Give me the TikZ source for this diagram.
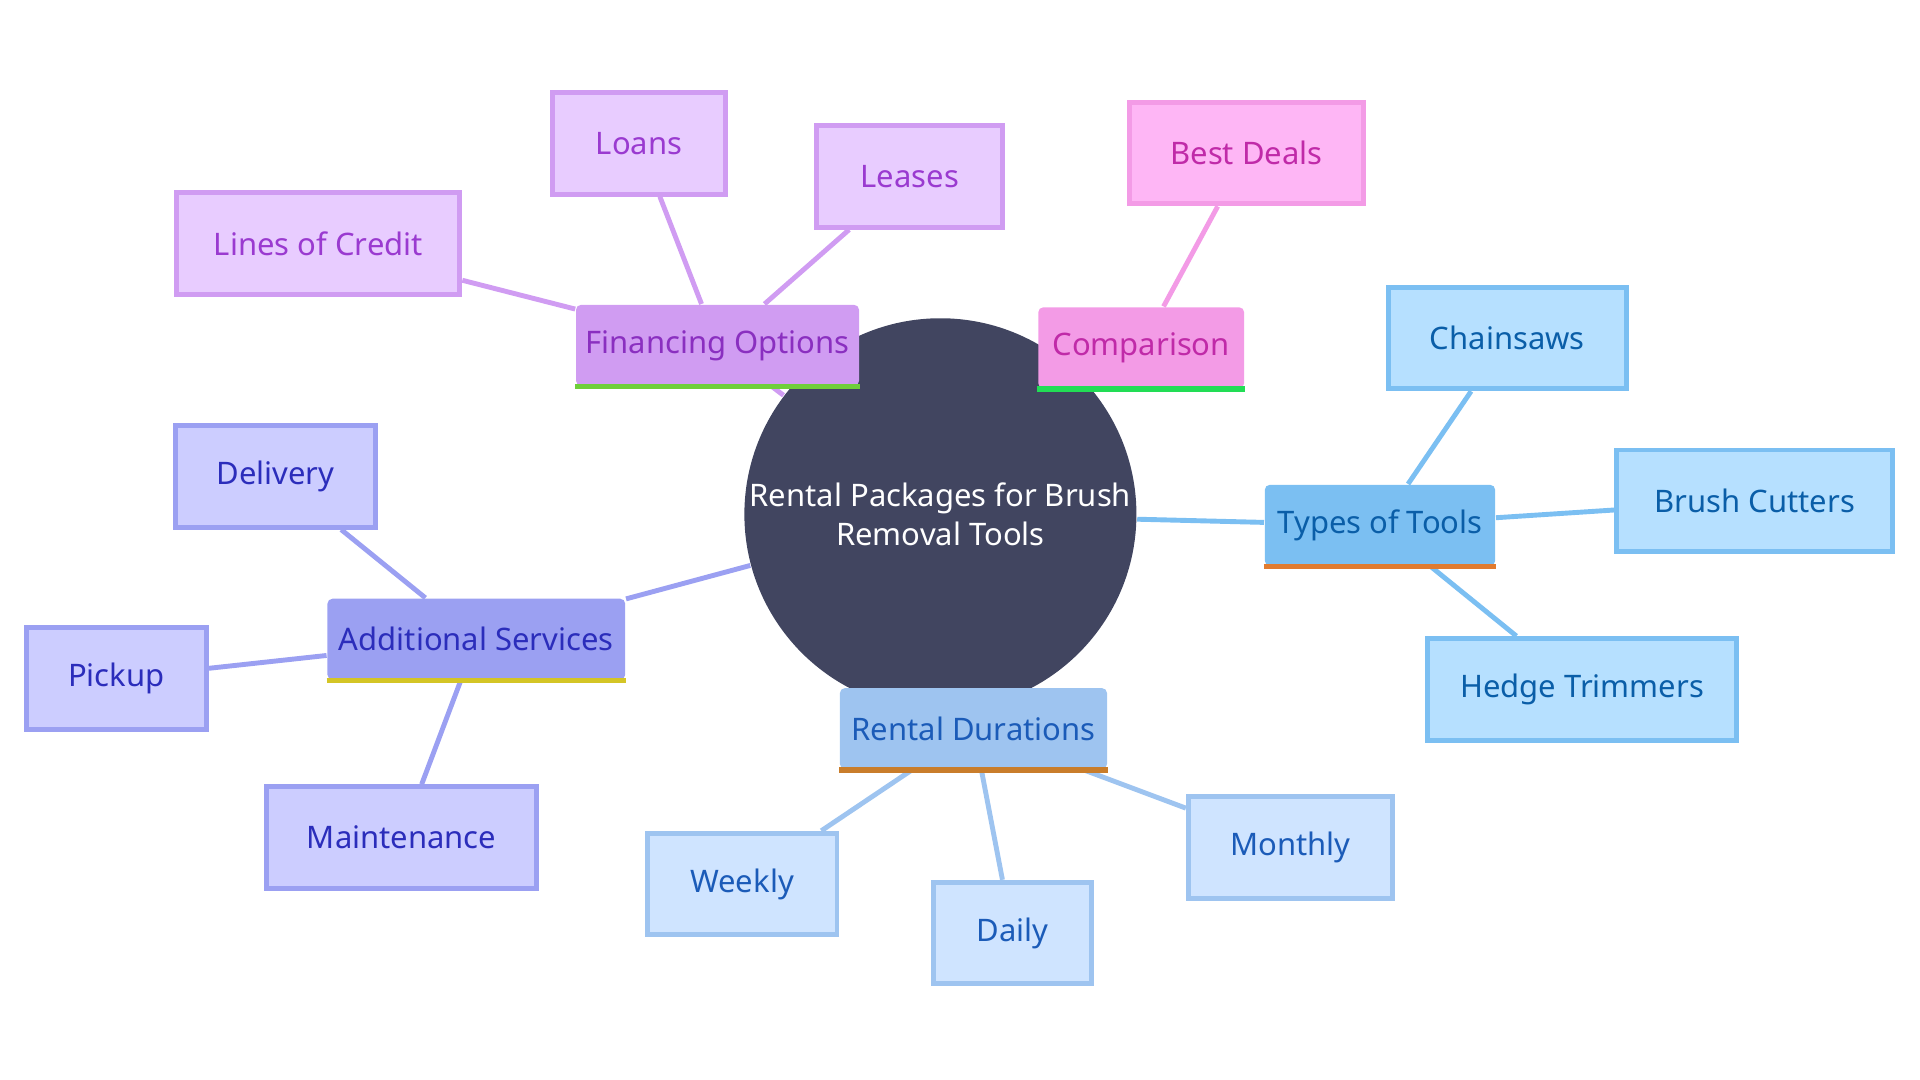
\documentclass[tikz,border=0pt]{standalone}
\usepackage{fontspec}
\setmainfont{Noto Sans}
\usetikzlibrary{backgrounds}
\definecolor{cdark}{HTML}{414560}
\definecolor{pF}{HTML}{D09CF2}\definecolor{pT}{HTML}{8A2FC0}\definecolor{pL}{HTML}{E8CCFF}\definecolor{pLT}{HTML}{9A3AD0}
\definecolor{mF}{HTML}{F39BE6}\definecolor{mT}{HTML}{C02AA8}\definecolor{mL}{HTML}{FEB6F5}
\definecolor{bF}{HTML}{7BBFF2}\definecolor{bT}{HTML}{0A5EA8}\definecolor{bL}{HTML}{B6E0FF}
\definecolor{dF}{HTML}{9EC4F0}\definecolor{dT}{HTML}{1B5BB8}\definecolor{dL}{HTML}{CFE4FF}
\definecolor{aF}{HTML}{9BA0F2}\definecolor{aT}{HTML}{2B2DBB}\definecolor{aL}{HTML}{CCCDFF}
\definecolor{gA}{HTML}{6FCF3A}\definecolor{gB}{HTML}{22DD55}\definecolor{oA}{HTML}{E07B30}\definecolor{oB}{HTML}{C97D2B}\definecolor{yA}{HTML}{D4C526}
\tikzset{
  txt/.style={font=\fontsize{7.2}{9}\selectfont, align=center, inner sep=0pt},
  mid/.style={txt, rounded corners=0.04cm, minimum height=0.66cm},
  leaf/.style={txt, line width=0.04cm, minimum height=0.83cm},
  edge/.style={line width=0.04cm},
  ul/.style={line width=0.045cm}
}
\begin{document}
\begin{tikzpicture}[x=0.01cm,y=-0.01cm]
\useasboundingbox (0,0) rectangle (1568,882);
\node[circle, fill=cdark, minimum size=3.2cm, text=white, txt] (c) at (768,420) {Rental Packages for Brush\\Removal Tools};
% mid nodes
\node[mid, fill=pF, text=pT, minimum width=2.31cm] (fin) at (586,282) {Financing Options};
\node[mid, fill=mF, text=mT, minimum width=1.68cm] (cmp) at (932,284) {Comparison};
\node[mid, fill=bF, text=bT, minimum width=1.88cm] (tt) at (1127,429) {Types of Tools};
\node[mid, fill=dF, text=dT, minimum width=2.18cm] (rd) at (795,595) {Rental Durations};
\node[mid, fill=aF, text=aT, minimum width=2.43cm] (as) at (389,522) {Additional Services};
\foreach \n/\c in {fin/gA,cmp/gB,tt/oA,rd/oB,as/yA}
  \draw[ul, draw=\c] (\n.south west) -- (\n.south east);
% leaves
\node[leaf, fill=pL, draw=pF, text=pLT, minimum width=2.31cm] (loc) at (260,199) {Lines of Credit};
\node[leaf, fill=pL, draw=pF, text=pLT, minimum width=1.41cm] (loa) at (522,117) {Loans};
\node[leaf, fill=pL, draw=pF, text=pLT, minimum width=1.52cm] (lea) at (743,144) {Leases};
\node[leaf, fill=mL, draw=mF, text=mT, minimum width=1.91cm] (bd) at (1018,125) {Best Deals};
\node[leaf, fill=bL, draw=bF, text=bT, minimum width=1.94cm] (cs) at (1231,276) {Chainsaws};
\node[leaf, fill=bL, draw=bF, text=bT, minimum width=2.25cm] (bc) at (1433,409) {Brush Cutters};
\node[leaf, fill=bL, draw=bF, text=bT, minimum width=2.52cm] (ht) at (1292,563) {Hedge Trimmers};
\node[leaf, fill=dL, draw=dF, text=dT, minimum width=1.67cm] (mo) at (1054,692) {Monthly};
\node[leaf, fill=dL, draw=dF, text=dT, minimum width=1.29cm] (da) at (827,762) {Daily};
\node[leaf, fill=dL, draw=dF, text=dT, minimum width=1.55cm] (we) at (606,722) {Weekly};
\node[leaf, fill=aL, draw=aF, text=aT, minimum width=1.63cm] (de) at (225,389) {Delivery};
\node[leaf, fill=aL, draw=aF, text=aT, minimum width=1.47cm] (pu) at (95,554) {Pickup};
\node[leaf, fill=aL, draw=aF, text=aT, minimum width=2.20cm] (ma) at (328,684) {Maintenance};
\begin{scope}[on background layer]
\draw[edge, pF] (c) -- (fin); \draw[edge, mF] (c) -- (cmp);
\draw[edge, bF] (c) -- (tt); \draw[edge, dF] (c) -- (rd); \draw[edge, aF] (c) -- (as);
\draw[edge, pF] (fin) -- (loc); \draw[edge, pF] (fin) -- (loa); \draw[edge, pF] (fin) -- (lea);
\draw[edge, mF] (cmp) -- (bd);
\draw[edge, bF] (tt) -- (cs); \draw[edge, bF] (tt) -- (bc); \draw[edge, bF] (tt) -- (ht);
\draw[edge, dF] (rd) -- (mo); \draw[edge, dF] (rd) -- (da); \draw[edge, dF] (rd) -- (we);
\draw[edge, aF] (as) -- (de); \draw[edge, aF] (as) -- (pu); \draw[edge, aF] (as) -- (ma);
\end{scope}
\end{tikzpicture}
\end{document}
